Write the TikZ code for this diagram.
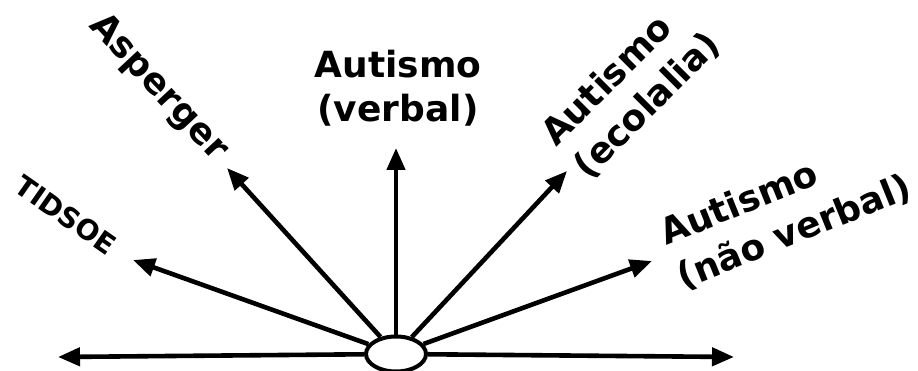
\documentclass[tikz,border=0pt]{standalone}
\usepackage{fontspec}
\setmainfont{DejaVu Sans}
\usetikzlibrary{arrows.meta,shapes.geometric}
\tikzset{
  arr/.style={line width=4.6pt,-{Triangle[length=22pt,width=18pt]}},
  lab/.style={font=\fontsize{36}{46}\selectfont\bfseries,inner sep=0pt},
  smalllab/.style={font=\fontsize{28}{32}\selectfont\bfseries,inner sep=0pt},
  hub/.style={ellipse,draw,line width=4pt,fill=white,minimum width=60pt,minimum height=35pt,inner sep=0pt}
}
\begin{document}
\begin{tikzpicture}[x=1pt,y=-1pt]
\useasboundingbox (0,0) rectangle (918,371);
\node[hub] (c) at (396,354) {};
\coordinate (L) at (58,357);
\coordinate (R) at (734,357);
\coordinate (t1) at (133,260);
\coordinate (t2) at (227,168);
\coordinate (t3) at (396,148);
\coordinate (t4) at (567,171);
\coordinate (t5) at (652,261);
\draw[arr] (c) -- (L);
\draw[arr] (c) -- (R);
\draw[arr] (c) -- (t1);
\draw[arr] (c) -- (t2);
\draw[arr] (c) -- (t3);
\draw[arr] (c) -- (t4);
\draw[arr] (c) -- (t5);
\node[smalllab,rotate=-35] (l1) at (66,215) {TIDSOE};
\node[lab,rotate=-47] (l2) at (158,88) {Asperger};
\node[lab,anchor=base] (l3a) at (398,78) {Autismo};
\node[lab,anchor=base] (l3b) at (398,122) {(verbal)};
\begin{scope}[shift={(556,148)},rotate=45,transform shape]
  \node[lab,anchor=base west] (l4a) at (0,0) {Autismo};
  \node[lab,anchor=base west] (l4b) at (0,46) {(ecolalia)};
\end{scope}
\begin{scope}[shift={(666,246)},rotate=22,transform shape]
  \node[lab,anchor=base west] (l5a) at (0,0) {Autismo};
  \node[lab,anchor=base west] (l5b) at (0,47) {(não verbal)};
\end{scope}
\end{tikzpicture}
\end{document}
